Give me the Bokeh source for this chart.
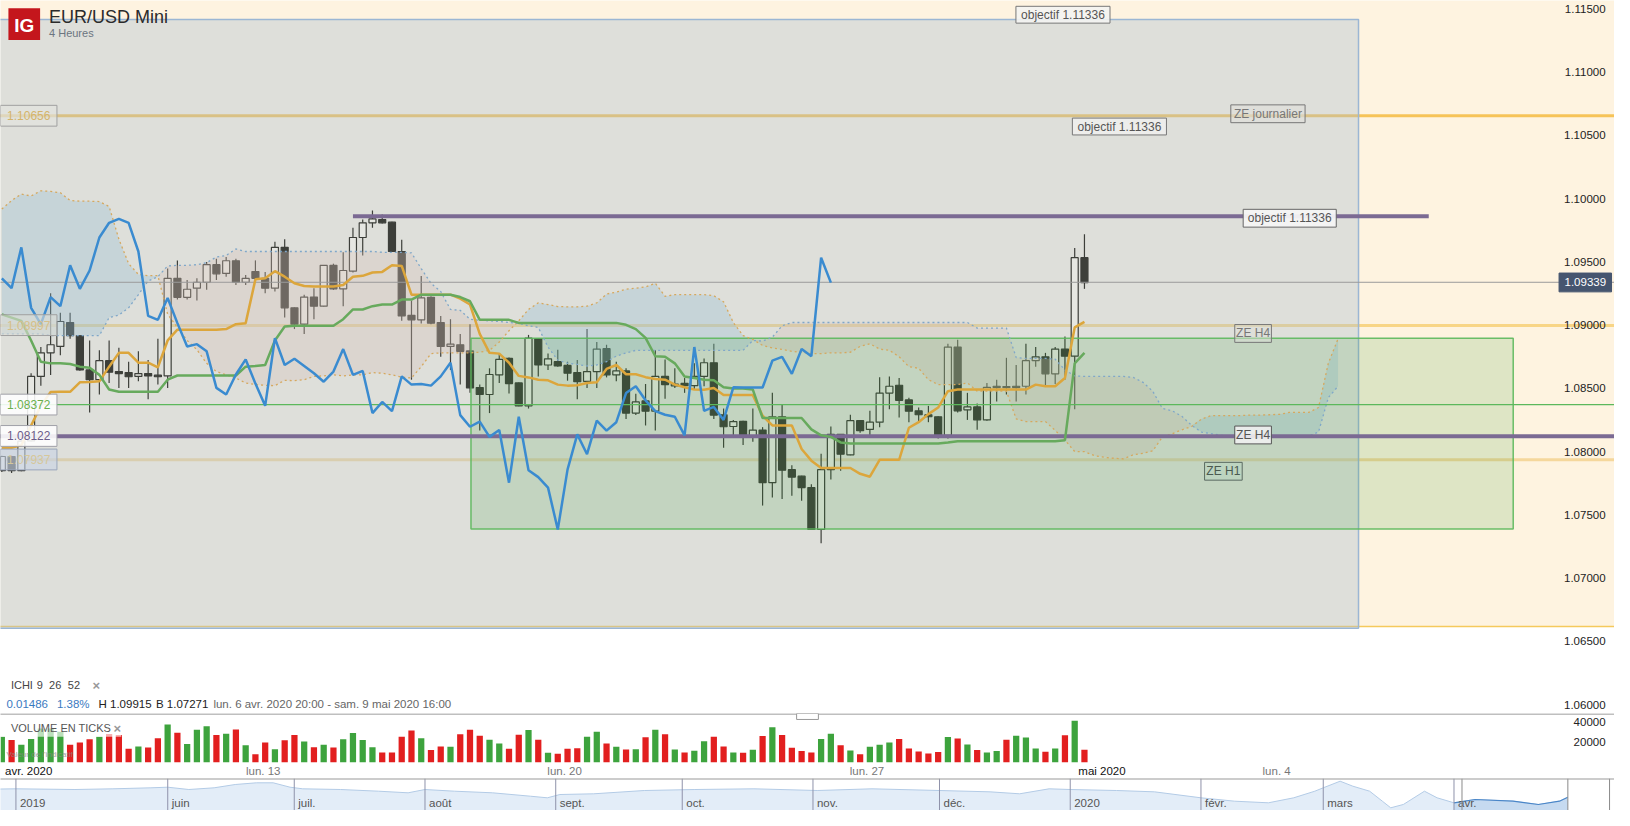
import numpy as np
from bokeh.plotting import figure
from bokeh.models import Range1d
from bokeh.layouts import column
from bokeh.embed import file_html
from bokeh.resources import INLINE
from bokeh.core.properties import value

FONT = "Liberation Sans"

# ---------------- DATA ----------------
opens = [1.07850, 1.07962, 1.07850, 1.08085, 1.08595, 1.08781, 1.08832, 1.09021, 1.08918, 1.08646,
         1.08569, 1.08719, 1.08633, 1.08625, 1.08595, 1.08617, 1.08605, 1.08599, 1.09370, 1.09220,
         1.09292, 1.09339, 1.09478, 1.09409, 1.09509, 1.09339, 1.09424, 1.09370, 1.09292, 1.09615,
         1.09137, 1.09008, 1.09222, 1.09150, 1.09473, 1.09287, 1.09427, 1.09693, 1.09809, 1.09835,
         1.09814, 1.09582, 1.09078, 1.09042, 1.09220, 1.09021, 1.08832, 1.08845, 1.08796, 1.08507,
         1.08452, 1.08607, 1.08737, 1.08543, 1.08362, 1.08892, 1.08685, 1.08711, 1.08682, 1.08625,
         1.08556, 1.08633, 1.08814, 1.08607, 1.08638, 1.08305, 1.08401, 1.08320, 1.08595, 1.08520,
         1.08540, 1.08522, 1.08595, 1.08703, 1.08292, 1.08199, 1.08240, 1.08122, 1.08171, 1.07755,
         1.08276, 1.07858, 1.07806, 1.07716, 1.07385, 1.07858, 1.08137, 1.07975, 1.08245, 1.08176,
         1.08233, 1.08463, 1.08525, 1.08409, 1.08323, 1.08292, 1.08276, 1.08129, 1.08827, 1.08331,
         1.08354, 1.08251, 1.08517, 1.08515, 1.08517, 1.08517, 1.08719, 1.08750, 1.08615, 1.08811,
         1.08755, 1.09533]
highs = [1.07967, 1.07967, 1.08091, 1.08620, 1.08827, 1.09253, 1.09098, 1.09098, 1.08920, 1.08879,
         1.08801, 1.08879, 1.08822, 1.08711, 1.08793, 1.08724, 1.08892, 1.09447, 1.09512, 1.09357,
         1.09370, 1.09499, 1.09525, 1.09538, 1.09525, 1.09396, 1.09512, 1.09421, 1.09659, 1.09680,
         1.09140, 1.09241, 1.09292, 1.09476, 1.09486, 1.09576, 1.09770, 1.09835, 1.09907, 1.09874,
         1.09817, 1.09675, 1.09194, 1.09388, 1.09228, 1.09073, 1.09047, 1.08930, 1.09008, 1.08530,
         1.08659, 1.08775, 1.08744, 1.08546, 1.08923, 1.08895, 1.08775, 1.08806, 1.08711, 1.08724,
         1.08969, 1.08866, 1.08845, 1.08711, 1.08659, 1.08457, 1.08535, 1.08801, 1.08729, 1.08659,
         1.08582, 1.08698, 1.08737, 1.08853, 1.08341, 1.08251, 1.08245, 1.08341, 1.08194, 1.08465,
         1.08370, 1.07892, 1.07810, 1.07742, 1.07983, 1.08199, 1.08140, 1.08292, 1.08248, 1.08323,
         1.08589, 1.08595, 1.08582, 1.08427, 1.08349, 1.08362, 1.08279, 1.08853, 1.08884, 1.08465,
         1.08380, 1.08543, 1.08569, 1.08742, 1.08685, 1.08853, 1.08827, 1.08781, 1.08827, 1.08911,
         1.09610, 1.09719]
lows = [1.07840, 1.07832, 1.07845, 1.08080, 1.08522, 1.08607, 1.08763, 1.08892, 1.08640, 1.08310,
        1.08452, 1.08543, 1.08504, 1.08504, 1.08556, 1.08414, 1.08530, 1.08504, 1.09202, 1.09202,
        1.09194, 1.09279, 1.09357, 1.09383, 1.09318, 1.09318, 1.09344, 1.09253, 1.09266, 1.09060,
        1.08969, 1.08930, 1.09047, 1.09147, 1.09279, 1.09150, 1.09416, 1.09551, 1.09770, 1.09804,
        1.09580, 1.09034, 1.08569, 1.09013, 1.09008, 1.08750, 1.08646, 1.08530, 1.08465, 1.08168,
        1.08305, 1.08543, 1.08460, 1.08360, 1.08341, 1.08595, 1.08646, 1.08672, 1.08561, 1.08414,
        1.08504, 1.08504, 1.08587, 1.08556, 1.08259, 1.08289, 1.08207, 1.08168, 1.08419, 1.08504,
        1.08465, 1.08491, 1.08517, 1.08259, 1.08031, 1.08129, 1.08052, 1.08078, 1.07574, 1.07638,
        1.07626, 1.07651, 1.07613, 1.07383, 1.07277, 1.07781, 1.07850, 1.07972, 1.08150, 1.08117,
        1.08194, 1.08336, 1.08271, 1.08233, 1.08233, 1.08233, 1.08104, 1.08104, 1.08310, 1.08251,
        1.08173, 1.08245, 1.08396, 1.08452, 1.08396, 1.08452, 1.08672, 1.08517, 1.08535, 1.08569,
        1.08336, 1.09287]
closes = [1.07962, 1.07850, 1.08083, 1.08595, 1.08781, 1.08845, 1.09029, 1.08918, 1.08646, 1.08569,
          1.08719, 1.08628, 1.08617, 1.08592, 1.08617, 1.08599, 1.08592, 1.09370, 1.09220, 1.09284,
          1.09339, 1.09478, 1.09406, 1.09509, 1.09339, 1.09370, 1.09370, 1.09292, 1.09615, 1.09137,
          1.09008, 1.09222, 1.09150, 1.09473, 1.09287, 1.09432, 1.09693, 1.09809, 1.09840, 1.09809,
          1.09582, 1.09073, 1.09042, 1.09215, 1.09016, 1.08832, 1.08850, 1.08793, 1.08504, 1.08452,
          1.08610, 1.08729, 1.08538, 1.08362, 1.08897, 1.08685, 1.08734, 1.08677, 1.08620, 1.08553,
          1.08633, 1.08811, 1.08607, 1.08638, 1.08305, 1.08393, 1.08320, 1.08595, 1.08530, 1.08535,
          1.08522, 1.08595, 1.08703, 1.08289, 1.08197, 1.08238, 1.08117, 1.08171, 1.07755, 1.08276,
          1.07853, 1.07799, 1.07716, 1.07385, 1.07858, 1.08137, 1.07980, 1.08245, 1.08166, 1.08233,
          1.08463, 1.08517, 1.08406, 1.08320, 1.08292, 1.08276, 1.08129, 1.08827, 1.08323, 1.08354,
          1.08251, 1.08509, 1.08507, 1.08507, 1.08507, 1.08719, 1.08750, 1.08615, 1.08811, 1.08755,
          1.09533, 1.09336]

tenkan = [1.08031, 1.08031, 1.08052, 1.08207, 1.08362, 1.08471, 1.08473, 1.08473, 1.08548, 1.08551,
          1.08556, 1.08672, 1.08781, 1.08781, 1.08703, 1.08703, 1.08667, 1.08879, 1.08964, 1.08964,
          1.08964, 1.08964, 1.08964, 1.08969, 1.09008, 1.09016, 1.09362, 1.09370, 1.09427, 1.09383,
          1.09331, 1.09310, 1.09305, 1.09305, 1.09305, 1.09318, 1.09383, 1.09390, 1.09416, 1.09421,
          1.09473, 1.09468, 1.09241, 1.09241, 1.09241, 1.09241, 1.09241, 1.09210, 1.09163, 1.08931,
          1.08781, 1.08775, 1.08703, 1.08599, 1.08587, 1.08569, 1.08564, 1.08530, 1.08522, 1.08525,
          1.08543, 1.08548, 1.08654, 1.08685, 1.08612, 1.08612, 1.08589, 1.08574, 1.08569, 1.08530,
          1.08509, 1.08491, 1.08489, 1.08504, 1.08447, 1.08447, 1.08447, 1.08447, 1.08284, 1.08207,
          1.08207, 1.08207, 1.08021, 1.07929, 1.07871, 1.07871, 1.07871, 1.07871, 1.07825, 1.07802,
          1.07936, 1.07936, 1.07936, 1.08189, 1.08233, 1.08297, 1.08349, 1.08478, 1.08491, 1.08491,
          1.08491, 1.08491, 1.08491, 1.08491, 1.08491, 1.08491, 1.08530, 1.08517, 1.08517, 1.08582,
          1.08982, 1.09026]
kijun = [1.09085, 1.09060, 1.09034, 1.08879, 1.08711, 1.08698, 1.08698, 1.08693, 1.08672, 1.08664,
         1.08607, 1.08491, 1.08473, 1.08473, 1.08473, 1.08473, 1.08473, 1.08569, 1.08602, 1.08602,
         1.08602, 1.08602, 1.08602, 1.08602, 1.08602, 1.08672, 1.08677, 1.08685, 1.08879, 1.08990,
         1.08995, 1.08995, 1.08995, 1.08995, 1.08995, 1.09047, 1.09124, 1.09124, 1.09150, 1.09163,
         1.09163, 1.09202, 1.09202, 1.09241, 1.09241, 1.09241, 1.09241, 1.09222, 1.09189, 1.09042,
         1.09042, 1.09042, 1.09042, 1.09018, 1.09018, 1.09018, 1.09018, 1.09018, 1.09018, 1.09018,
         1.09018, 1.09018, 1.09018, 1.09018, 1.09003, 1.08969, 1.08899, 1.08754, 1.08750, 1.08698,
         1.08595, 1.08582, 1.08569, 1.08564, 1.08509, 1.08499, 1.08499, 1.08491, 1.08266, 1.08266,
         1.08266, 1.08266, 1.08266, 1.08176, 1.08129, 1.08117, 1.08073, 1.08065, 1.08065, 1.08065,
         1.08065, 1.08065, 1.08065, 1.08065, 1.08065, 1.08065, 1.08065, 1.08073, 1.08083, 1.08083,
         1.08083, 1.08083, 1.08083, 1.08083, 1.08083, 1.08083, 1.08083, 1.08083, 1.08083, 1.08091,
         1.08698, 1.08781]
span_a = [1.09918, 1.09985, 1.10036, 1.10021, 1.10062, 1.10057, 1.10047, 1.09985, 1.09980, 1.09980,
          1.09977, 1.09938, 1.09680, 1.09486, 1.09401, 1.09391, 1.09391, 1.09086, 1.08982, 1.08879,
          1.08806, 1.08698, 1.08633, 1.08607, 1.08582, 1.08543, 1.08530, 1.08525, 1.08522, 1.08564,
          1.08561, 1.08569, 1.08595, 1.08599, 1.08607, 1.08599, 1.08607, 1.08607, 1.08625, 1.08620,
          1.08607, 1.08589, 1.08582, 1.08672, 1.08775, 1.08781, 1.08781, 1.08781, 1.08781, 1.08786,
          1.08801, 1.08866, 1.08956, 1.09034, 1.09124, 1.09176, 1.09163, 1.09147, 1.09145, 1.09145,
          1.09150, 1.09176, 1.09246, 1.09261, 1.09284, 1.09292, 1.09302, 1.09331, 1.09228, 1.09241,
          1.09241, 1.09241, 1.09241, 1.09233, 1.09184, 1.09021, 1.08918, 1.08887, 1.08840, 1.08819,
          1.08809, 1.08793, 1.08786, 1.08775, 1.08775, 1.08781, 1.08781, 1.08786, 1.08832, 1.08853,
          1.08811, 1.08801, 1.08750, 1.08672, 1.08659, 1.08569, 1.08530, 1.08530, 1.08530, 1.08543,
          1.08478, 1.08478, 1.08478, 1.08478, 1.08259, 1.08238, 1.08238, 1.08238, 1.08168, 1.08091,
          1.08001, 1.08001, 1.07969, 1.07956, 1.07948, 1.07943, 1.07975, 1.07987, 1.08006, 1.08117,
          1.08142, 1.08173, 1.08199, 1.08258, 1.08285, 1.08285, 1.08285, 1.08285, 1.08289, 1.08289,
          1.08292, 1.08295, 1.08310, 1.08310, 1.08310, 1.08349, 1.08698, 1.08892]
span_b = [1.08931, 1.08931, 1.08931, 1.08931, 1.08931, 1.08918, 1.08918, 1.08918, 1.08918, 1.08918,
          1.08918, 1.09060, 1.09080, 1.09137, 1.09241, 1.09349, 1.09383, 1.09468, 1.09473, 1.09473,
          1.09478, 1.09494, 1.09538, 1.09551, 1.09602, 1.09582, 1.09582, 1.09582, 1.09582, 1.09582,
          1.09582, 1.09582, 1.09582, 1.09582, 1.09582, 1.09582, 1.09582, 1.09582, 1.09582, 1.09576,
          1.09576, 1.09576, 1.09571, 1.09447, 1.09331, 1.09266, 1.09124, 1.09117, 1.09047, 1.09039,
          1.09034, 1.09029, 1.09021, 1.09013, 1.08995, 1.08982, 1.08827, 1.08724, 1.08698, 1.08690,
          1.08677, 1.08685, 1.08711, 1.08755, 1.08781, 1.08801, 1.08801, 1.08801, 1.08801, 1.08801,
          1.08801, 1.08801, 1.08801, 1.08801, 1.08801, 1.08801, 1.08801, 1.08879, 1.08874, 1.08905,
          1.08995, 1.09021, 1.09021, 1.09021, 1.09021, 1.09021, 1.09021, 1.09021, 1.09021, 1.09021,
          1.09021, 1.09021, 1.09021, 1.09021, 1.09021, 1.09021, 1.09021, 1.09021, 1.09021, 1.09021,
          1.08977, 1.08977, 1.08977, 1.08977, 1.08744, 1.08737, 1.08737, 1.08737, 1.08731, 1.08646,
          1.08599, 1.08595, 1.08595, 1.08595, 1.08595, 1.08595, 1.08587, 1.08548, 1.08478, 1.08341,
          1.08323, 1.08279, 1.08207, 1.08155, 1.08142, 1.08130, 1.08124, 1.08124, 1.08124, 1.08124,
          1.08124, 1.08124, 1.08124, 1.08124, 1.08124, 1.08155, 1.08427, 1.08517]

volumes = [25200, 22000, 17200, 23000, 33300, 33300, 30100, 17200, 19400, 22700,
           25200, 27800, 26900, 13300, 15500, 14600, 23600, 37200, 29100, 18100,
           32000, 35600, 26900, 28200, 32400, 16800, 7800, 19400, 12900, 21700,
           26900, 20400, 14900, 17200, 14600, 22700, 28800, 22000, 14900, 9700,
           9700, 25200, 31400, 23600, 12000, 15500, 15200, 27500, 32000, 26200,
           22300, 18400, 13300, 27200, 31700, 22300, 9400, 8400, 13300, 13900,
           25200, 30100, 18400, 15200, 12600, 12900, 24600, 32000, 27500, 12600,
           9700, 11300, 20700, 25200, 15500, 9700, 9400, 12300, 25900, 34600,
           26900, 14200, 11000, 9700, 23000, 28200, 16800, 11700, 7800, 15200,
           17200, 19400, 23000, 13600, 10700, 8700, 10000, 24900, 23300, 17500,
           12000, 9700, 11000, 22300, 26200, 24300, 13600, 10400, 13600, 26500,
           40800, 12300]
volume_up = [1, 0, 1, 1, 1, 1, 1, 0, 0, 0, 1, 0, 0, 0, 1, 0, 0, 1, 0, 1,
             1, 1, 0, 1, 0, 1, 0, 0, 1, 0, 0, 1, 0, 1, 0, 1, 1, 1, 1, 0,
             0, 0, 0, 1, 0, 0, 1, 0, 0, 0, 1, 1, 0, 0, 1, 0, 1, 0, 0, 0,
             1, 1, 0, 1, 0, 1, 0, 1, 0, 1, 0, 1, 1, 0, 0, 1, 0, 1, 0, 1,
             0, 0, 0, 0, 1, 1, 0, 1, 0, 1, 1, 1, 0, 0, 0, 0, 0, 1, 0, 1,
             0, 1, 1, 0, 1, 1, 1, 0, 1, 0, 1, 0]

price_ticks = [1.115, 1.110, 1.105, 1.100, 1.095, 1.090, 1.085, 1.080, 1.075, 1.070, 1.065, 1.060]
volume_ticks = [40000, 20000]
date_tick_pos = [2.76, 26.8, 57.7, 88.7, 112.8, 130.7]
date_tick_labels = ["avr. 2020", "lun. 13", "lun. 20", "lun. 27", "mai 2020", "lun. 4"]
date_tick_major = [True, False, False, False, True, False]

last_price = 1.09339
ze_journalier = 1.10656
ze_h4_level = 1.08997
ze_h1_level = 1.07937
green_level = 1.08372
purple_level = 1.08122
objectif_level = 1.09861
objectif_span = (36.0, 146.3)
cream_bottom = 1.06618
big_zone = (-5.0, 139.1, 1.06605, 1.11415)
h4_zone = (48.1, 154.96, 1.07388, 1.08897)

# navigator (days since 2019-06-01, EUR/USD)
nav_days = [-40, -36, -22, -13, -4, 0, 5, 11, 16, 21, 25, 29, 32, 41, 50, 57, 61, 68, 77, 86,
            90, 93, 101, 113, 125, 139, 154, 167, 183, 195, 202, 209, 214, 225, 234, 245, 253, 261,
            267, 272, 274, 278, 281, 285, 288, 290, 293, 298, 301, 305, 310, 319, 325, 330, 332]
nav_vals = [1.1215, 1.1222, 1.1201, 1.1222, 1.1252, 1.1270, 1.1201, 1.1252, 1.1351, 1.1402, 1.1402,
            1.1270, 1.1222, 1.1201, 1.1150, 1.1102, 1.1201, 1.1150, 1.1102, 1.1000, 1.0952, 1.1051,
            1.1072, 1.1171, 1.1201, 1.1222, 1.1171, 1.1222, 1.1171, 1.1131, 1.1072, 1.1222, 1.1201,
            1.1171, 1.1131, 1.0952, 1.0850, 1.0802, 1.0952, 1.1150, 1.1252, 1.1450, 1.1301, 1.1150,
            1.0852, 1.0652, 1.0752, 1.1150, 1.0952, 1.0802, 1.0901, 1.0850, 1.0751, 1.0850, 1.0970]
nav_month_days = [-36, 0, 30, 61, 92, 122, 153, 183, 214, 245, 274, 305]
nav_month_labels = ["2019", "juin", "juil.", "août", "sept.", "oct.", "nov.", "déc.", "2020",
                    "févr.", "mars", "avr."]
nav_selection = (306.9, 332.0)

# ---------------- helpers (reference pixel -> data) ----------------
SC = 1614 / 1630.0


def rx(px):
    return (px - 1.35) / 9.85


def ry(py):
    return 1.09339 - (py - 287.3) / 12900.0


def vy(py):
    return (776.5 - py) * 971.0


def nd(px):
    return (px - 168.9) / 4.259


def ny(py):
    return 1.145 - (py - 796.7) * 0.003


def txt(fig, x, y, s, color, size=12, align="left", style="normal", alpha=1.0):
    fig.text(x=[x], y=[y], text=[s], text_color=color, text_font=value(FONT),
             text_font_size=f"{size}px", text_align=align, text_baseline="middle",
             text_font_style=style, text_alpha=alpha)


def box(fig, cx, cy, w, h, s, tcolor, bg, bg_alpha, border, size=12):
    fig.rect(x=[rx(cx)], y=[ry(cy)], width=w * SC, height=h * SC, width_units="screen",
             height_units="screen", fill_color=bg, fill_alpha=bg_alpha, line_color=border, line_width=1)
    txt(fig, rx(cx), ry(cy), s, tcolor, size, "center")


def hline(fig, yv, color, width, alpha=1.0):
    fig.segment(x0=[rx(-50)], x1=[rx(1700)], y0=[yv], y1=[yv], line_color=color, line_width=width,
                line_alpha=alpha)


def base_fig(h, xr, yr):
    f = figure(width=1614, height=h, x_range=xr, y_range=yr, output_backend="svg",
               toolbar_location=None, x_axis_location=None, y_axis_location=None, min_border=0)
    f.grid.visible = False
    f.outline_line_color = None
    f.background_fill_color = "white"
    f.border_fill_color = "white"
    return f


O = np.array(opens); H = np.array(highs); L = np.array(lows); C = np.array(closes)
idx = np.arange(len(O))
XR = Range1d(rx(0), rx(1630))

# ---------------- MAIN PRICE PANEL ----------------
p = base_fig(713, XR, Range1d(ry(727), ry(0)))

p.quad(left=[rx(-50)], right=[rx(1700)], top=[ry(-20)], bottom=[cream_bottom],
       fill_color="#fef3e0", line_color=None)
hline(p, cream_bottom, "#f5c95c", 1.5)
hline(p, ze_journalier, "#f6c358", 3)
hline(p, ze_h4_level, "#f8d586", 3)
hline(p, ze_h1_level, "#f5d79c", 3)

bx0, bx1, by0, by1 = big_zone
p.quad(left=[bx0], right=[bx1], bottom=[by0], top=[by1], fill_color="#a9c0d0", fill_alpha=0.375,
       line_color="#9bb6d4", line_width=1.5)

# candles
up = C >= O
p.segment(x0=idx, y0=H, x1=idx, y1=L, line_color="#3d3f3a", line_width=1.2)
p.vbar(x=idx[up], top=C[up], bottom=O[up], width=0.72, fill_color="#e6e7e2",
       line_color="#3d3f3a", line_width=1.2)
p.vbar(x=idx[~up], top=O[~up], bottom=C[~up], width=0.72, fill_color="#3d3f3a",
       line_color="#3d3f3a", line_width=1.2)

# ichimoku cloud
A = np.array(span_a); B = np.array(span_b)
sx = np.arange(len(A))
topAB = np.maximum(A, B)
p.varea(x=sx, y1=B, y2=topAB, fill_color="#95bfd3", fill_alpha=0.32)
p.varea(x=sx, y1=A, y2=topAB, fill_color="#d8c2b8", fill_alpha=0.32)

hx0, hx1, hy0, hy1 = h4_zone
p.quad(left=[hx0], right=[hx1], bottom=[hy0], top=[hy1], fill_color="#3b9c38", fill_alpha=0.16,
       line_color="#5cb85c", line_width=1.5, line_alpha=0.9)

p.line(sx, A, line_color="#d6a85e", line_dash="2 3", line_width=1.3)
p.line(sx, B, line_color="#7fa7c9", line_dash="2 3", line_width=1.3)

hline(p, green_level, "#5cb85c", 1.2)
hline(p, last_price, "#9a9a9a", 1)
hline(p, purple_level, "#7b6a93", 4)
p.segment(x0=[objectif_span[0]], x1=[objectif_span[1]], y0=[objectif_level], y1=[objectif_level],
          line_color="#7b6a93", line_width=4)

p.line(idx, tenkan, line_color="#dca63c", line_width=2.5)
p.line(idx, kijun, line_color="#67aa5d", line_width=2.5)
p.line(idx[26:] - 26, C[26:], line_color="#3a8bd0", line_width=2.5)

# left level tags
box(p, 28.5, 117.5, 57, 21, "1.10656", "#d4b46a", "#e3e4df", 0.6, "#a0a0a0")
box(p, 28.5, 331, 57, 21, "1.08997", "#d6bf88", "#dcdcd6", 0.6, "#a0a0a0")
box(p, 28.5, 412, 57, 21, "1.08372", "#6ab04c", "#ffffff", 0.88, "#a0a0a8")
box(p, 28.5, 444, 57, 21, "1.08122", "#6b5b8a", "#ffffff", 0.88, "#a0a0a8")
box(p, 28.5, 468, 57, 21, "1.07937", "#d6c79a", "#c8d4e6", 0.6, "#9aa6bb")

# drawing annotations
box(p, 1073, 14.5, 95, 17, "objectif 1.11336", "#555555", "#f4f4f2", 0.9, "#777777")
box(p, 1130, 128.5, 95, 17, "objectif 1.11336", "#555555", "#eeeeec", 0.9, "#777777")
box(p, 1280, 115.5, 75, 18, "ZE journalier", "#777777", "#e0e0da", 0.6, "#777777")
box(p, 1302, 222, 94, 18, "objectif 1.11336", "#555555", "#f4f4f4", 0.95, "#666666")
box(p, 1265, 339.5, 37, 18, "ZE H4", "#777777", "#dedfd8", 0.5, "#777777")
box(p, 1265, 443, 37, 18, "ZE H4", "#555555", "#f0f0f0", 0.9, "#555555")
box(p, 1235, 480, 38, 18, "ZE H1", "#4a5a50", "#b9d4c0", 0.6, "#5a6a60")

# price axis labels
for t in price_ticks:
    txt(p, rx(1621), t, f"{t:.5f}", "#222222", 11.5, "right")
box(p, 1600.5, 287.5, 53, 19, f"{last_price:.5f}", "#ffffff", "#46556f", 1.0, "#46556f", 11.5)

# header
p.rect(x=[rx(24)], y=[ry(24)], width=32 * SC, height=32 * SC, width_units="screen",
       height_units="screen", fill_color="#c4161c", line_color=None)
txt(p, rx(24), ry(25), "IG", "#ffffff", 19, "center", "bold")
txt(p, rx(49), ry(17), "EUR/USD Mini", "#2b2b2b", 18)
txt(p, rx(49), ry(33.5), "4 Heures", "#6b7580", 11)

# indicator legend lines
txt(p, rx(10.5), ry(698), "ICHI", "#444444", 11)
txt(p, rx(36.5), ry(698), "9", "#444444", 11)
txt(p, rx(49), ry(698), "26", "#444444", 11)
txt(p, rx(68), ry(698), "52", "#444444", 11)
txt(p, rx(93), ry(698), "×", "#999999", 13, style="bold")
txt(p, rx(6), ry(717.5), "0.01486", "#3a7abf", 11.5)
txt(p, rx(57), ry(717.5), "1.38%", "#3a7abf", 11.5)
txt(p, rx(99), ry(717.5), "H 1.09915", "#222222", 11.5)
txt(p, rx(157), ry(717.5), "B 1.07271", "#222222", 11.5)
txt(p, rx(215), ry(717.5), "lun. 6 avr. 2020 20:00 - sam. 9 mai 2020 16:00", "#666666", 11.5)

# ---------------- VOLUME PANEL ----------------
pv = base_fig(65, XR, Range1d(vy(793), vy(727)))
pv.segment(x0=[rx(-50)], x1=[rx(1700)], y0=[vy(727.5)], y1=[vy(727.5)], line_color="#aaaaaa",
           line_width=1.5)
vcolors = ["#3da33d" if u else "#e21f1f" for u in volume_up]
pv.vbar(x=idx, top=volumes, bottom=0, width=0.64, fill_color=vcolors, line_color=None)
pv.rect(x=[rx(61)], y=[vy(742)], width=122 * SC, height=17 * SC, width_units="screen",
        height_units="screen", fill_color="#ffffff", fill_alpha=0.65, line_color=None)
txt(pv, rx(10.5), vy(742), "VOLUME EN TICKS", "#555555", 11)
txt(pv, rx(114), vy(742), "×", "#999999", 13, style="bold")
txt(pv, rx(6), vy(769), "Valeur de l'indicatif", "#888888", 8, alpha=0.8)
for t in volume_ticks:
    txt(pv, rx(1621), t, str(t), "#222222", 11.5, "right")
for pos, lab, major in zip(date_tick_pos, date_tick_labels, date_tick_major):
    txt(pv, pos, vy(785), lab, "#111111" if major else "#777777", 11.5, "center")
pv.rect(x=[rx(815)], y=[vy(730)], width=22 * SC, height=6, width_units="screen",
        height_units="screen", fill_color="#ffffff", line_color="#999999", line_width=1)

# ---------------- NAVIGATOR ----------------
pn = base_fig(32, Range1d(nd(0), nd(1630)), Range1d(ny(826), ny(794)))
nx = np.array(nav_days, dtype=float)
nv = np.array(nav_vals)
floor = np.full(len(nx), ny(840))
pn.varea(x=nx, y1=floor, y2=nv, fill_color="#e3edf8")
pn.line(nx, nv, line_color="#b3cbe6", line_width=1)
sel = nx >= nav_month_days[-1]
pn.varea(x=nx[sel], y1=floor[sel], y2=nv[sel], fill_color="#c6daf0")
pn.line(nx[sel], nv[sel], line_color="#4a86c8", line_width=1.2)
pn.quad(left=[nav_selection[1]], right=[nd(1700)], bottom=[ny(840)], top=[ny(794)],
        fill_color="#ffffff", line_color=None)
for d, lab in zip(nav_month_days, nav_month_labels):
    pn.segment(x0=[d], x1=[d], y0=[ny(840)], y1=[ny(794)], line_color="#8f92aa", line_width=1)
    pn.text(x=[d], y=[ny(818)], text=[lab], text_color="#555555", text_font=value(FONT),
            text_font_size="11.5px", text_baseline="middle", text_align="left", x_offset=4)
for d in nav_selection:
    pn.segment(x0=[d], x1=[d], y0=[ny(840)], y1=[ny(794)], line_color="#8a8a8a", line_width=1)
pn.segment(x0=[nd(1625)], x1=[nd(1625)], y0=[ny(840)], y1=[ny(794)], line_color="#8a8a8a",
           line_width=1)
pn.segment(x0=[nd(-50)], x1=[nd(1700)], y0=[ny(794.3)], y1=[ny(794.3)], line_color="#9a9a9a",
           line_width=1.5)

layout = column(p, pv, pn, spacing=0)
open("out.html", "w").write(file_html(layout, INLINE))
